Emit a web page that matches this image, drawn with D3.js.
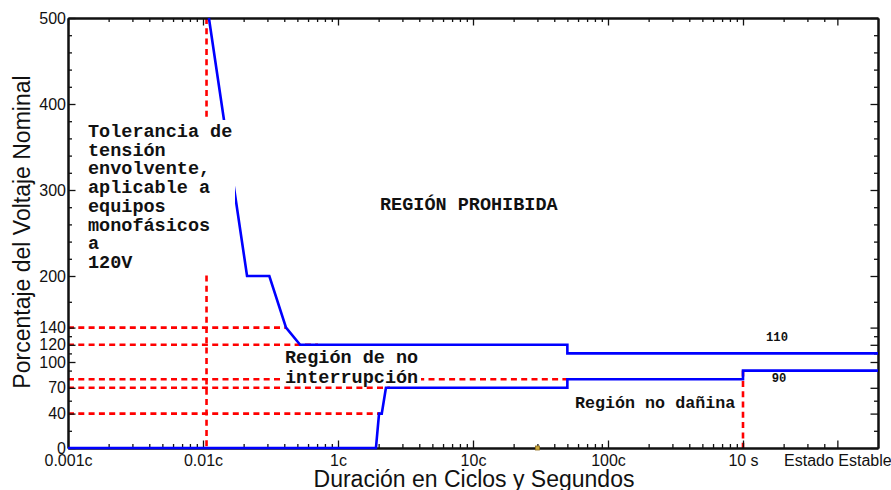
<!DOCTYPE html>
<html>
<head>
<meta charset="utf-8">
<script src="https://cdn.jsdelivr.net/npm/d3@7"></script>
<style>
  body { margin: 0; background: #fff; }
  svg { display: block; }
</style>
</head>
<body>
<svg id="chart" width="891" height="490"></svg>
<script>
// ---- Axis ticks ----
const xTickValues = [0.001, 0.01, 0.1, 1, 10, 100, 500];
const xTickLabels = ["0.001c", "0.01c", "1c", "10c", "100c", "10 s", "Estado Estable"];
const yTickValues = [0, 40, 70, 100, 120, 140, 200, 300, 400, 500];
const yMinorTicks = [20, 55, 90, 110, 130, 170, 220, 240, 260, 280, 320, 340, 360, 380, 420, 440, 460, 480];

// ---- Tolerance envelope (duration, percent of nominal voltage) ----
const upperDur = [0.01106, 0.0212, 0.0310, 0.0412, 0.0524, 5, 5, 1000];
const upperPct = [500, 200, 200, 140, 120, 120, 110, 110];
const lowerDur = [0.001, 0.191, 0.2014, 0.2109, 0.2265, 5, 5, 100, 100, 1000];
const lowerPct = [0, 0, 40, 40, 70, 70, 80, 80, 90, 90];

// ---- Dashed reference lines ----
const refHPct = [140, 120, 80, 70, 40];
const refHEnd = [0.0412, 0.0711, 5, 0.2426, 0.2047];
const refVDur = [0.01062, 100];
const refVTop = [500, 90];

// ---- Small marker on the duration axis ----
const markerDur = [3];
const markerPct = [0];

(function draw() {
  // ---- Layout ----
  const pLeft = 68, pRight = 878, pTop = 18, pBottom = 448;
  const svg = d3.select("#chart");

  const x = d3.scaleLog().domain([0.001, 1000]).range([pLeft, pRight]);
  const y = d3.scaleLinear().domain([0, 500]).range([pBottom, pTop]);

  // minor log ticks: 2..9 in each decade, last decade only up to 400
  const xMinor = [];
  [0.001, 0.01, 0.1, 1, 10].forEach(d => { for (let k = 2; k <= 9; k++) xMinor.push(d * k); });
  xMinor.push(200, 300, 400);

  const sans = "'Liberation Sans', Arial, Helvetica, sans-serif";
  const mono = "'Liberation Mono', 'Courier New', monospace";
  const blue = "#0000ff", red = "#ff0000";

  // ---- Reference lines (drawn beneath the envelope) ----
  const gRef = svg.append("g").attr("fill", "none").attr("stroke", red)
    .attr("stroke-width", 2.6).attr("stroke-dasharray", "6,4.3");
  refHPct.forEach((p, i) => {
    gRef.append("line")
      .attr("x1", x(0.001)).attr("x2", x(refHEnd[i]))
      .attr("y1", y(p)).attr("y2", y(p));
  });
  refVDur.forEach((d, i) => {
    gRef.append("line")
      .attr("x1", x(d)).attr("x2", x(d))
      .attr("y1", y(refVTop[i])).attr("y2", y(0));
  });

  // ---- Axes frame with inward ticks ----
  function styleAxis(g, keepLabels) {
    g.select(".domain").attr("stroke", "#111").attr("stroke-width", 2);
    g.selectAll(".tick line").attr("stroke", "#111").attr("stroke-width", 1.3);
    if (keepLabels) {
      g.selectAll("text").attr("fill", "#111").attr("font-family", sans).attr("font-size", 16);
    } else {
      g.selectAll("text").remove();
    }
  }
  function addAxis(transform, axis, keepLabels) {
    svg.append("g").attr("transform", transform).call(axis).call(styleAxis, keepLabels);
  }
  addAxis(`translate(0,${pBottom})`,
    d3.axisBottom(x).tickValues(xTickValues).tickSizeInner(-7.5).tickSizeOuter(0)
      .tickPadding(7).tickFormat((d, i) => xTickLabels[i]), true);
  addAxis(`translate(0,${pBottom})`,
    d3.axisBottom(x).tickValues(xMinor).tickSizeInner(-4).tickSizeOuter(0), false);
  addAxis(`translate(0,${pTop})`,
    d3.axisTop(x).tickValues(xTickValues).tickSizeInner(-7.5).tickSizeOuter(0), false);
  addAxis(`translate(0,${pTop})`,
    d3.axisTop(x).tickValues(xMinor).tickSizeInner(-4).tickSizeOuter(0), false);
  addAxis(`translate(${pLeft},0)`,
    d3.axisLeft(y).tickValues(yTickValues).tickSizeInner(-7.5).tickSizeOuter(0).tickPadding(2), true);
  addAxis(`translate(${pLeft},0)`,
    d3.axisLeft(y).tickValues(yMinorTicks).tickSizeInner(-4).tickSizeOuter(0), false);
  addAxis(`translate(${pRight},0)`,
    d3.axisRight(y).tickValues(yTickValues).tickSizeInner(-7.5).tickSizeOuter(0), false);
  addAxis(`translate(${pRight},0)`,
    d3.axisRight(y).tickValues(yMinorTicks).tickSizeInner(-4).tickSizeOuter(0), false);

  // ---- Envelope curves ----
  svg.append("defs").append("clipPath").attr("id", "plotClip")
    .append("rect").attr("x", pLeft).attr("y", pTop - 2)
    .attr("width", pRight - pLeft).attr("height", pBottom - pTop + 4);
  const line = d3.line().x(d => x(d[0])).y(d => y(d[1]));
  const upper = upperDur.map((d, i) => [d, upperPct[i]]);
  const lower = lowerDur.map((d, i) => [d, lowerPct[i]]);
  const gCurves = svg.append("g").attr("clip-path", "url(#plotClip)")
    .attr("fill", "none").attr("stroke", blue).attr("stroke-width", 2.6)
    .attr("stroke-linejoin", "miter");
  gCurves.append("path").attr("d", line(upper));
  gCurves.append("path").attr("d", line(lower));

  // marker on the axis
  svg.selectAll(".marker").data(markerDur).enter().append("rect")
    .attr("class", "marker")
    .attr("x", d => x(d) - 2).attr("y", (d, i) => y(markerPct[i]) - 2)
    .attr("width", 4).attr("height", 4)
    .attr("fill", "#c9a83a").attr("stroke", "#8c6a1a").attr("stroke-width", 0.8);

  // ---- Annotations ----
  function monoText(tx, ty, str, size) {
    return svg.append("text").attr("x", tx).attr("y", ty)
      .attr("font-family", mono).attr("font-weight", "bold")
      .attr("font-size", size).attr("fill", "#111").text(str);
  }

  // envelope description block with its own white backing
  svg.append("rect").attr("x", 86).attr("y", 120).attr("width", 149).attr("height", 155).attr("fill", "#fff");
  const descLines = ["Tolerancia de", "tensión", "envolvente,", "aplicable a", "equipos", "monofásicos", "a", "120V"];
  const desc = svg.append("text").attr("font-family", mono).attr("font-weight", "bold")
    .attr("font-size", 18.5).attr("fill", "#111");
  descLines.forEach((s, i) => {
    desc.append("tspan").attr("x", 88).attr("y", 137 + i * 18.7).text(s);
  });

  monoText(380, 210, "REGIÓN PROHIBIDA", 18.5);

  svg.append("rect").attr("x", 283).attr("y", 347).attr("width", 138).attr("height", 37).attr("fill", "#fff");
  monoText(285, 363, "Región de no", 18.5);
  monoText(285, 383, "interrupción", 18.5);

  monoText(575, 408, "Región no dañina", 16.7);

  svg.append("text").attr("x", 777).attr("y", y(upperPct[upperPct.length - 1]) - 12)
    .attr("text-anchor", "middle").attr("font-family", mono).attr("font-weight", "bold")
    .attr("font-size", 12.2).attr("fill", "#111").text("110");
  svg.append("text").attr("x", 779).attr("y", y(lowerPct[lowerPct.length - 1]) + 11)
    .attr("text-anchor", "middle").attr("font-family", mono).attr("font-weight", "bold")
    .attr("font-size", 12.2).attr("fill", "#111").text("90");

  // ---- Axis titles ----
  svg.append("text").attr("transform", "translate(30,232) rotate(-90)")
    .attr("text-anchor", "middle").attr("font-family", sans).attr("font-size", 23)
    .attr("fill", "#111").text("Porcentaje del Voltaje Nominal");
  svg.append("text").attr("x", 474).attr("y", 487)
    .attr("text-anchor", "middle").attr("font-family", sans).attr("font-size", 23)
    .attr("fill", "#111").text("Duración en Ciclos y Segundos");
})();
</script>
</body>
</html>
